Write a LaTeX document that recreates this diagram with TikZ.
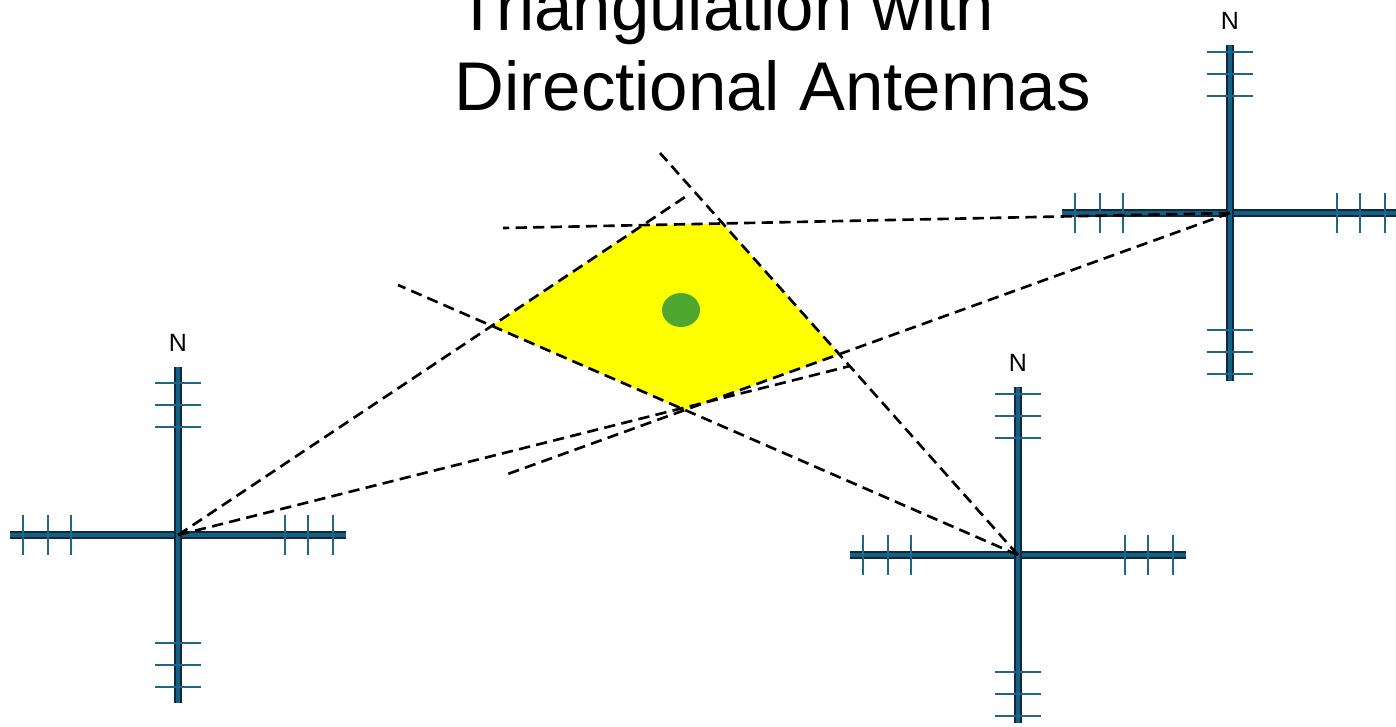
\documentclass[tikz,border=0pt]{standalone}
\usepackage{fontspec}
\setmainfont{Liberation Sans}
\usepackage{xcolor}
\usepackage{tikz}
\usetikzlibrary{calc}
\definecolor{armdark}{HTML}{0E2841}
\definecolor{armblue}{HTML}{156082}
\definecolor{tickblue}{HTML}{1F6687}
\definecolor{zoneyellow}{HTML}{FFFF00}
\definecolor{dotgreen}{HTML}{4EA72E}
\tikzset{
  arm/.style    ={draw=armdark,line width=0.5pt,double=armblue,double distance=1pt},
  tickmark/.style={draw=tickblue,line width=0.8pt},
  bearing/.style={draw=black,line width=0.75pt,dash pattern=on 3.2pt off 1.8pt},
  zone/.style   ={fill=zoneyellow},
  north/.style  ={font=\fontsize{7.1}{8}\selectfont,inner sep=0pt},
  title/.style  ={font=\fontsize{19.6}{23}\selectfont,inner sep=0pt,anchor=base west},
}

\begin{document}
\begin{tikzpicture}[x=0.01cm,y=-0.01cm]
  \useasboundingbox (0,0) rectangle (1396,727);

  \node[title] (title1) at (456,30)  {Triangulation with};
  \node[title] (title2) at (454,110) {Directional Antennas};

  % antenna positions
  \coordinate (antA) at (178,535);
  \coordinate (antB) at (1230,213);
  \coordinate (antC) at (1018,555);

  % far ends of the beam edges
  \coordinate (a1) at (688,195);
  \coordinate (a2) at (850,366);
  \coordinate (b1) at (503,228);
  \coordinate (b2) at (505,475);
  \coordinate (c1) at (660,153);
  \coordinate (c2) at (398,285);

  % overlap of the three beams
  \coordinate (p1) at (intersection of antA--a1 and antC--c2);
  \coordinate (p2) at (intersection of antA--a1 and antB--b1);
  \coordinate (p3) at (intersection of antB--b1 and antC--c1);
  \coordinate (p4) at (intersection of antC--c1 and antB--b2);
  \coordinate (p5) at (intersection of antB--b2 and antC--c2);
  \fill[zone] (p1) -- (p2) -- (p3) -- (p4) -- (p5) -- cycle;
  \fill[dotgreen] (681,310) ellipse [x radius=19,y radius=17];

  \foreach \ant/\vt in {antA/{108,130,152}, antB/{117,139,161}, antC/{117,139,161}}{
    \begin{scope}[shift={(\ant)}]
      \draw[arm] (-168,0) -- (168,0);
      \draw[arm] (0,-168) -- (0,168);
      \foreach \d in {107,130,155}{
        \draw[tickmark] (\d,-20) -- (\d,20);
        \draw[tickmark] (-\d,-20) -- (-\d,20);
      }
      \foreach \d in \vt{
        \draw[tickmark] (-23,\d) -- (23,\d);
        \draw[tickmark] (-23,-\d) -- (23,-\d);
      }
      \node[north] (\ant-N) at (0,-192) {N};
    \end{scope}
  }

  \draw[bearing] (antA) -- (a1);
  \draw[bearing] (antA) -- (a2);
  \draw[bearing] (antB) -- (b1);
  \draw[bearing] (antB) -- (b2);
  \draw[bearing] (antC) -- (c1);
  \draw[bearing] (antC) -- (c2);
\end{tikzpicture}
\end{document}
